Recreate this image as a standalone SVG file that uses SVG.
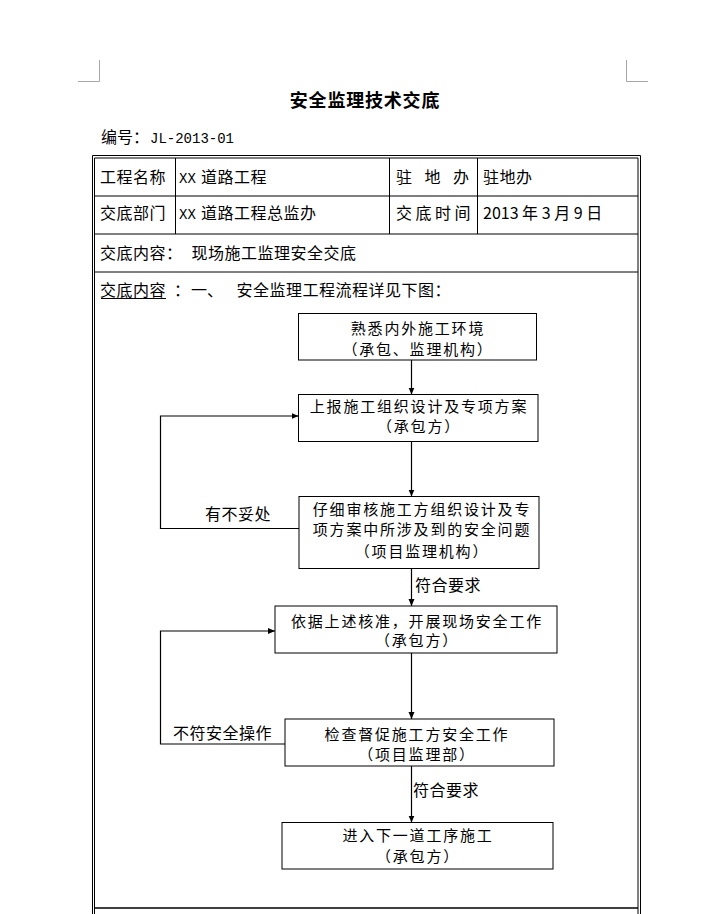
<svg xmlns="http://www.w3.org/2000/svg" width="709" height="914" viewBox="0 0 709 914">
<style>
text{font-family:"Noto Sans CJK SC","Noto Sans",sans-serif;font-size:16px;fill:#000}
.t{letter-spacing:0.5px}
.f{font-size:15px;letter-spacing:1.8px;text-anchor:middle}
.mono{font-family:"Liberation Mono",monospace;font-size:14px}
.title{font-size:18px;font-weight:bold;text-anchor:middle;letter-spacing:0.8px}
.box{fill:#fff;stroke:#000;stroke-width:1}
.ln{fill:none;stroke:#000;stroke-width:1}
.con{fill:none;stroke:#000;stroke-width:1.2}
</style>
<defs>
<marker id="ah" markerUnits="userSpaceOnUse" markerWidth="8" markerHeight="7" refX="7" refY="3" orient="auto">
<path d="M0,0 L7,3 L0,6 z" fill="#000"/>
</marker>
</defs>
<rect width="709" height="914" fill="#fff"/>
<g id="cornerMarks" fill="none" stroke="#a6a6a6" stroke-width="1">
<path d="M78,81.5 H99.5 V60"/>
<path d="M626.5,60 V81.5 H648"/>
</g>
<g id="header">
<text class="title" x="365" y="107">安全监理技术交底</text>
<text x="101" y="143">编号：</text>
<text class="mono" x="150" y="143">JL-2013-01</text>
</g>
<g id="table">
<path class="ln" d="M92.5,914 V155.5 H640.5 V914"/>
<path class="ln" d="M94.5,914 V158 H638 V914"/>
<line x1="94.5" y1="908" x2="638" y2="908" stroke="#000" stroke-width="1.6"/>
<path class="ln" d="M94.5,196 H638 M94.5,234 H638 M94.5,272 H638"/>
<path class="ln" d="M175.5,158 V234 M389.5,158 V234 M477.5,158 V234"/>
<text class="t" x="100" y="183">工程名称</text>
<text class="mono" x="179" y="183">XX</text>
<text class="t" x="201" y="183">道路工程</text>
<text x="396" y="183">驻</text>
<text x="424.5" y="183">地</text>
<text x="453" y="183">办</text>
<text class="t" x="483" y="183">驻地办</text>
<text class="t" x="100" y="219">交底部门</text>
<text class="mono" x="179" y="219">XX</text>
<text class="t" x="201" y="219">道路工程总监办</text>
<text x="396" y="219">交</text>
<text x="415.5" y="219">底</text>
<text x="435" y="219">时</text>
<text x="454.5" y="219">间</text>
<text x="483" y="219" xml:space="preserve">2013 年 3 月 9 日</text>
<text class="t" x="100" y="259">交底内容：</text>
<text class="t" x="191.5" y="259">现场施工监理安全交底</text>
<text class="t" x="100" y="296">交底内容</text>
<line x1="101" y1="298.5" x2="166" y2="298.5" stroke="#000" stroke-width="1"/>
<text x="174" y="296">：</text>
<text x="191" y="296">一、</text>
<text class="t" x="236.5" y="296">安全监理工程流程详见下图：</text>
</g>
<g id="connectors">
<line class="con" x1="411.5" y1="360" x2="411.5" y2="394.5" marker-end="url(#ah)"/>
<line class="con" x1="411.5" y1="441.5" x2="411.5" y2="496.5" marker-end="url(#ah)"/>
<line class="con" x1="411.5" y1="568.5" x2="411.5" y2="606" marker-end="url(#ah)"/>
<line class="con" x1="411.5" y1="653" x2="411.5" y2="719" marker-end="url(#ah)"/>
<line class="con" x1="411.5" y1="766" x2="411.5" y2="822.5" marker-end="url(#ah)"/>
<path class="con" d="M299,528.5 H160.5 V416 H298.5" marker-end="url(#ah)"/>
<path class="con" d="M285,744 H160.5 V631 H275" marker-end="url(#ah)"/>
<text class="t" x="205" y="520">有不妥处</text>
<text class="t" x="415" y="591">符合要求</text>
<text class="t" x="173" y="739">不符安全操作</text>
<text class="t" x="413" y="796">符合要求</text>
</g>
<g id="n1">
<rect class="box" x="298.5" y="313.5" width="238" height="46.5"/>
<text class="f" x="418" y="333.5">熟悉内外施工环境</text>
<text class="f" x="418" y="354.5">（承包、监理机构）</text>
</g>
<g id="n2">
<rect class="box" x="298.5" y="394.5" width="239.5" height="47"/>
<text class="f" x="419" y="411.5">上报施工组织设计及专项方案</text>
<text class="f" x="419" y="431.5">（承包方）</text>
</g>
<g id="n3">
<rect class="box" x="299" y="496.5" width="240" height="72"/>
<text class="f" x="422" y="514.5">仔细审核施工方组织设计及专</text>
<text class="f" x="422" y="534.5">项方案中所涉及到的安全问题</text>
<text class="f" x="422" y="556.5">（项目监理机构）</text>
</g>
<g id="n4">
<rect class="box" x="275" y="606" width="282" height="47"/>
<text class="f" x="417" y="626.5">依据上述核准，开展现场安全工作</text>
<text class="f" x="417" y="645.5">（承包方）</text>
</g>
<g id="n5">
<rect class="box" x="285" y="719" width="269" height="47"/>
<text class="f" x="417" y="739.5">检查督促施工方安全工作</text>
<text class="f" x="417" y="759.5">（项目监理部）</text>
</g>
<g id="n6">
<rect class="box" x="282" y="822.5" width="271" height="46.5"/>
<text class="f" x="418" y="841">进入下一道工序施工</text>
<text class="f" x="418" y="862">（承包方）</text>
</g>
</svg>
